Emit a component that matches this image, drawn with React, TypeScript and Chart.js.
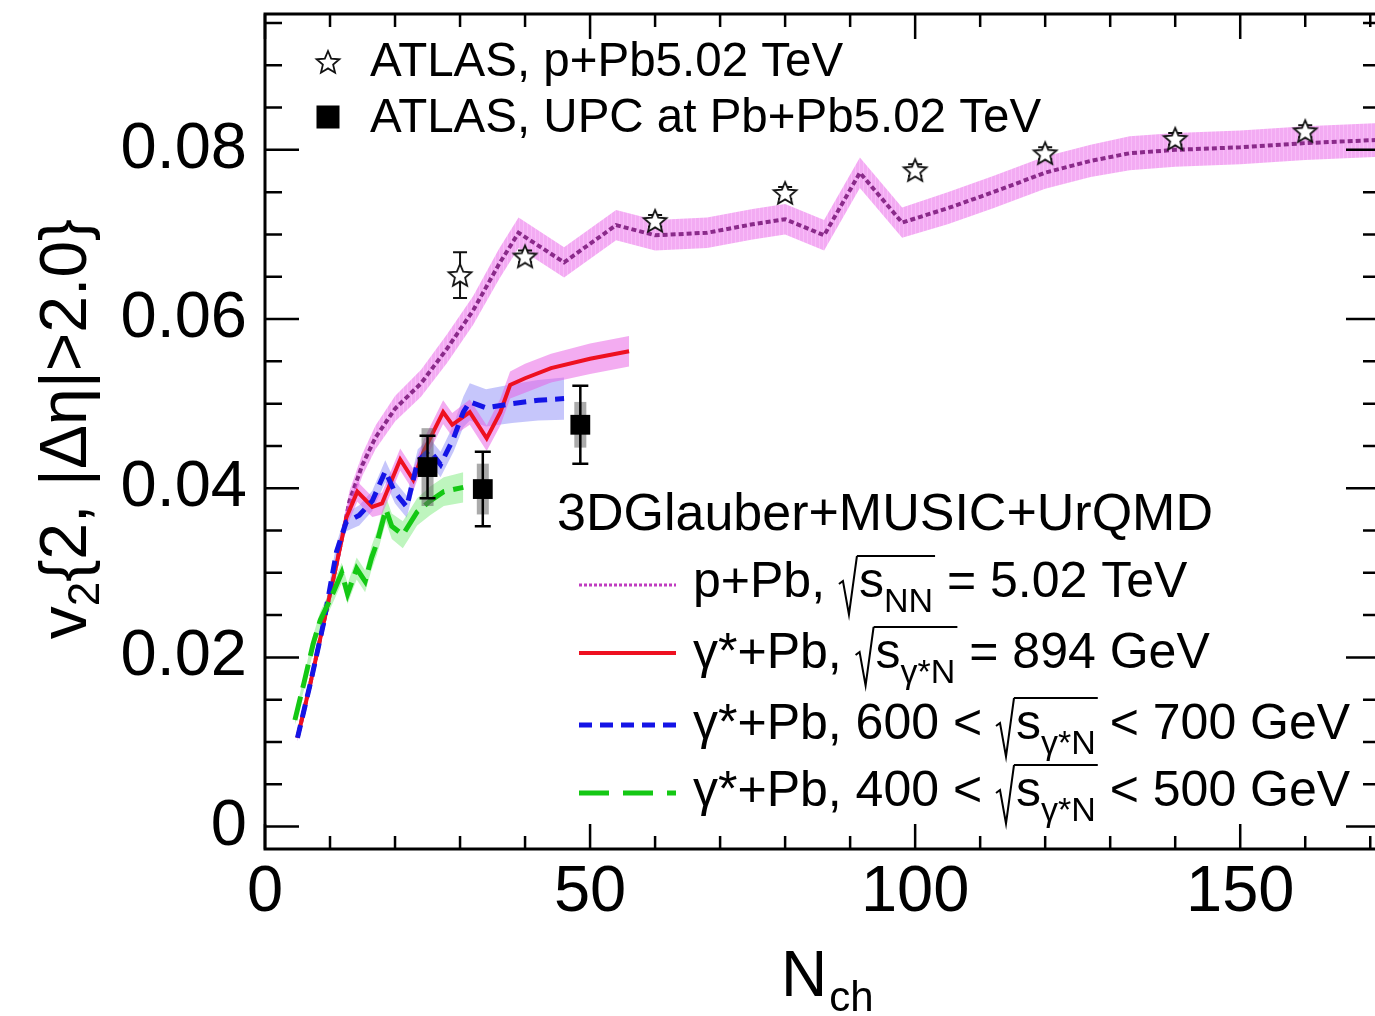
import React, { useEffect, useRef } from "react";
import { Chart, registerables } from "chart.js";

Chart.register(...registerables);

const FONT = '"Liberation Sans", Arial, Helvetica, sans-serif';

// ---------------- data ----------------
// 3DGlauber+MUSIC+UrQMD, p+Pb 5.02 TeV
const pPbN = [5, 7, 9, 11, 13, 15, 17, 20, 24, 28, 32, 36, 39, 46, 54, 60, 68, 75, 80, 86, 91.5, 98, 105, 112, 120, 127, 133, 140, 150, 160, 172];
const pPbV = [0.0105, 0.017, 0.024, 0.031, 0.0385, 0.0428, 0.046, 0.0494, 0.0524, 0.0565, 0.061, 0.0665, 0.0702, 0.0667, 0.0711, 0.0699, 0.0702, 0.0712, 0.0718, 0.0699, 0.0773, 0.0714, 0.0731, 0.075, 0.0773, 0.0787, 0.0796, 0.08, 0.0803, 0.0808, 0.0812];
const pPbErr = [0.0004, 0.0006, 0.0008, 0.001, 0.0012, 0.0013, 0.0014, 0.0015, 0.0016, 0.0017, 0.0017, 0.0018, 0.0018, 0.0018, 0.0018, 0.0018, 0.0018, 0.0018, 0.0018, 0.0018, 0.0018, 0.0018, 0.0019, 0.0019, 0.0019, 0.0019, 0.002, 0.002, 0.002, 0.002, 0.002];

// gamma*+Pb, sqrt(s) = 894 GeV
const redN = [5, 7, 9, 11, 12.5, 14.2, 16.5, 18, 20.8, 22.8, 24.5, 27.4, 28.8, 31.5, 34.1, 36.2, 37.7, 40, 44, 50, 56];
const redV = [0.0105, 0.017, 0.024, 0.031, 0.0365, 0.0396, 0.0378, 0.0382, 0.0434, 0.041, 0.0445, 0.049, 0.0475, 0.049, 0.0459, 0.049, 0.0522, 0.053, 0.0542, 0.0553, 0.0562];
const redErr = [0.0004, 0.0006, 0.0008, 0.001, 0.0011, 0.0012, 0.0012, 0.0013, 0.0013, 0.0013, 0.0014, 0.0014, 0.0014, 0.0015, 0.0015, 0.0016, 0.0016, 0.0017, 0.0017, 0.0018, 0.0018];

// gamma*+Pb, 600 < sqrt(s) < 700 GeV
const blueN = [5, 7, 9, 11, 12.5, 14.5, 16.5, 18.5, 20, 21.8, 23.5, 25.3, 27, 29, 30.5, 31.5, 34, 38, 42, 46];
const blueV = [0.0105, 0.017, 0.024, 0.0325, 0.036, 0.0368, 0.0385, 0.042, 0.0395, 0.0378, 0.0432, 0.0445, 0.0428, 0.0459, 0.049, 0.0502, 0.0495, 0.05, 0.0504, 0.0506];
const blueErr = [0.0004, 0.0006, 0.0008, 0.001, 0.0011, 0.0012, 0.0012, 0.0013, 0.0013, 0.0013, 0.0014, 0.0014, 0.0015, 0.0016, 0.0018, 0.0022, 0.0022, 0.0023, 0.0024, 0.0025];

// gamma*+Pb, 400 < sqrt(s) < 500 GeV
const greenN = [4.6, 6, 7.4, 8.5, 10, 11.8, 12.7, 14.1, 15.4, 16.4, 17.2, 18.6, 19.5, 21.2, 23.4, 25.4, 27.5, 30.5];
const greenV = [0.0126, 0.017, 0.0216, 0.0244, 0.0268, 0.03, 0.0275, 0.0305, 0.029, 0.0318, 0.0335, 0.0375, 0.0355, 0.0345, 0.0372, 0.0385, 0.0396, 0.0401];
const greenErr = [0.0006, 0.0008, 0.001, 0.001, 0.0011, 0.0012, 0.0012, 0.0013, 0.0013, 0.0014, 0.0014, 0.0015, 0.0015, 0.0016, 0.0016, 0.0017, 0.0017, 0.0018];

// ATLAS p+Pb 5.02 TeV
const atlasPPbN = [30, 40, 60, 80, 100, 120, 140, 160];
const atlasPPbV = [0.0652, 0.0674, 0.0716, 0.0749, 0.0776, 0.0796, 0.0813, 0.0822];
const atlasPPbErr = [0.0027, 0.0007, 0.0007, 0.0007, 0.0007, 0.0007, 0.0007, 0.0007];

// ATLAS UPC at Pb+Pb 5.02 TeV
const atlasUpcN = [25, 33.5, 48.5];
const atlasUpcV = [0.0425, 0.0399, 0.0475];
const atlasUpcStat = [0.0037, 0.0044, 0.0046];
const atlasUpcSys = [0.0046, 0.003, 0.0027];

// axes
const xTicks = [0, 50, 100, 150];
const xTickLabels = ["0", "50", "100", "150"];
const yTicks = [0, 0.02, 0.04, 0.06, 0.08];
const yTickLabels = ["0", "0.02", "0.04", "0.06", "0.08"];
const X_MIN = 0;
const X_MAX = 171.5;
const Y_MIN = -0.00265;
const Y_MAX = 0.09606;
const X_MINOR = 10;
const Y_MINOR = 0.005;

const topLegend = ["ATLAS, p+Pb5.02 TeV", "ATLAS, UPC at Pb+Pb5.02 TeV"];
const modelTitle = "3DGlauber+MUSIC+UrQMD";

type Tok = { t?: string; sub?: boolean; rad?: "open" | "close" };
const modelRows: Tok[][] = [
  [{ t: "p+Pb, " }, { rad: "open" }, { t: "s" }, { t: "NN", sub: true }, { rad: "close" }, { t: " = 5.02 TeV" }],
  [{ t: "γ*+Pb, " }, { rad: "open" }, { t: "s" }, { t: "γ*N", sub: true }, { rad: "close" }, { t: " = 894 GeV" }],
  [{ t: "γ*+Pb, 600 < " }, { rad: "open" }, { t: "s" }, { t: "γ*N", sub: true }, { rad: "close" }, { t: " < 700 GeV" }],
  [{ t: "γ*+Pb, 400 < " }, { rad: "open" }, { t: "s" }, { t: "γ*N", sub: true }, { rad: "close" }, { t: " < 500 GeV" }],
];

// ---------------- helpers ----------------
const pts = (xs: number[], ys: number[]) => xs.map((x, i) => ({ x, y: ys[i] }));
const bandPts = (xs: number[], ys: number[], es: number[], s: number) =>
  xs.map((x, i) => ({ x, y: ys[i] + s * es[i] }));

function makeStar(r: number): HTMLCanvasElement {
  const size = Math.ceil(r * 2 + 4);
  const c = document.createElement("canvas");
  c.width = size;
  c.height = size;
  const g = c.getContext("2d")!;
  const cx = size / 2;
  const cy = size / 2 + 1;
  g.beginPath();
  for (let k = 0; k < 10; k++) {
    const rr = k % 2 === 0 ? r : r * 0.45;
    const a = -Math.PI / 2 + (k * Math.PI) / 5;
    const px = cx + rr * Math.cos(a);
    const py = cy + rr * Math.sin(a);
    if (k === 0) g.moveTo(px, py);
    else g.lineTo(px, py);
  }
  g.closePath();
  g.fillStyle = "#fff";
  g.fill();
  g.lineWidth = 1.8;
  g.strokeStyle = "#111";
  g.stroke();
  return c;
}

function drawRich(ctx: CanvasRenderingContext2D, toks: Tok[], x: number, y: number, size: number) {
  let cx = x;
  let radStart = 0;
  ctx.textBaseline = "alphabetic";
  ctx.textAlign = "left";
  for (const tk of toks) {
    if (tk.rad === "open") {
      radStart = cx;
      ctx.save();
      ctx.lineWidth = 2;
      ctx.strokeStyle = "#000";
      ctx.beginPath();
      ctx.moveTo(cx, y - size * 0.26);
      ctx.lineTo(cx + size * 0.08, y - size * 0.32);
      ctx.lineTo(cx + size * 0.2, y + size * 0.35);
      ctx.lineTo(cx + size * 0.36, y - size * 0.82);
      ctx.stroke();
      ctx.restore();
      cx += size * 0.4;
      continue;
    }
    if (tk.rad === "close") {
      ctx.save();
      ctx.lineWidth = 2;
      ctx.strokeStyle = "#000";
      ctx.beginPath();
      ctx.moveTo(radStart + size * 0.36, y - size * 0.82);
      ctx.lineTo(cx + 2, y - size * 0.82);
      ctx.stroke();
      ctx.restore();
      continue;
    }
    const fs = tk.sub ? size * 0.68 : size;
    ctx.font = `${fs}px ${FONT}`;
    ctx.fillStyle = "#000";
    ctx.fillText(tk.t || "", cx, tk.sub ? y + size * 0.3 : y);
    cx += ctx.measureText(tk.t || "").width;
  }
}

export default function App() {
  const ref = useRef<HTMLCanvasElement | null>(null);

  useEffect(() => {
    const canvas = ref.current;
    if (!canvas) return;
    const c2d = canvas.getContext("2d")!;

    const pc = document.createElement("canvas");
    pc.width = 4;
    pc.height = 4;
    const pg = pc.getContext("2d")!;
    pg.fillStyle = "rgba(236,120,236,0.62)";
    pg.fillRect(0, 0, 4, 4);
    pg.fillStyle = "rgba(252,200,252,0.6)";
    pg.fillRect(3, 0, 1, 4);
    const pPbPattern = c2d.createPattern(pc, "repeat")!;

    const starImg = makeStar(12);

    const base = { pointRadius: 0, borderWidth: 0, tension: 0, showLine: true, fill: false as any };

    const datasets: any[] = [
      // 0,1 pPb band
      { ...base, data: bandPts(pPbN, pPbV, pPbErr, -1), borderColor: "transparent", order: 30 },
      { ...base, data: bandPts(pPbN, pPbV, pPbErr, 1), borderColor: "transparent", backgroundColor: pPbPattern, fill: "-1", order: 29 },
      // 2 pPb line
      { ...base, data: pts(pPbN, pPbV), borderColor: "#8a2a8a", borderWidth: 4, borderDash: [5, 3], order: 28 },
      // 3,4 blue band
      { ...base, data: bandPts(blueN, blueV, blueErr, -1), borderColor: "transparent", order: 27 },
      { ...base, data: bandPts(blueN, blueV, blueErr, 1), borderColor: "transparent", backgroundColor: "rgba(120,120,245,0.42)", fill: "-1", order: 26 },
      // 5,6 green band
      { ...base, data: bandPts(greenN, greenV, greenErr, -1), borderColor: "transparent", order: 25 },
      { ...base, data: bandPts(greenN, greenV, greenErr, 1), borderColor: "transparent", backgroundColor: "rgba(110,232,110,0.45)", fill: "-1", order: 24 },
      // 7,8 red band
      { ...base, data: bandPts(redN, redV, redErr, -1), borderColor: "transparent", order: 23 },
      { ...base, data: bandPts(redN, redV, redErr, 1), borderColor: "transparent", backgroundColor: "rgba(232,90,228,0.5)", fill: "-1", order: 22 },
      // 9 red line
      { ...base, data: pts(redN, redV), borderColor: "#ee1020", borderWidth: 4, order: 10 },
      // 10 blue line
      { ...base, data: pts(blueN, blueV), borderColor: "#1414e6", borderWidth: 5, borderDash: [13, 8], order: 9 },
      // 11 green line
      { ...base, data: pts(greenN, greenV), borderColor: "#14c814", borderWidth: 5, borderDash: [24, 9], order: 8 },
      // 12 ATLAS p+Pb stars
      { data: pts(atlasPPbN, atlasPPbV), showLine: false, pointStyle: starImg, pointRadius: 12, order: 2 },
      // 13 ATLAS UPC squares
      { data: pts(atlasUpcN, atlasUpcV), showLine: false, pointStyle: "rect", pointRadius: 14, pointBackgroundColor: "#000", pointBorderColor: "#000", pointBorderWidth: 0, order: 1 },
    ];
    const STAR_IDX = 12;
    const UPC_IDX = 13;

    const errorBarPlugin = {
      id: "errbars",
      beforeDatasetDraw(chart: any, args: any) {
        const ctx = chart.ctx as CanvasRenderingContext2D;
        const xs = chart.scales.x;
        const ys = chart.scales.y;
        if (args.index === STAR_IDX) {
          ctx.save();
          ctx.strokeStyle = "#111";
          ctx.lineWidth = 2;
          atlasPPbN.forEach((n, i) => {
            const px = xs.getPixelForValue(n);
            const y1 = ys.getPixelForValue(atlasPPbV[i] + atlasPPbErr[i]);
            const y2 = ys.getPixelForValue(atlasPPbV[i] - atlasPPbErr[i]);
            ctx.beginPath();
            ctx.moveTo(px, y1);
            ctx.lineTo(px, y2);
            ctx.moveTo(px - 7, y1);
            ctx.lineTo(px + 7, y1);
            ctx.moveTo(px - 7, y2);
            ctx.lineTo(px + 7, y2);
            ctx.stroke();
          });
          ctx.restore();
        }
        if (args.index === UPC_IDX) {
          ctx.save();
          atlasUpcN.forEach((n, i) => {
            const px = xs.getPixelForValue(n);
            const s1 = ys.getPixelForValue(atlasUpcV[i] + atlasUpcSys[i]);
            const s2 = ys.getPixelForValue(atlasUpcV[i] - atlasUpcSys[i]);
            ctx.fillStyle = "rgba(100,100,100,0.55)";
            ctx.fillRect(px - 6, s1, 12, s2 - s1);
            const y1 = ys.getPixelForValue(atlasUpcV[i] + atlasUpcStat[i]);
            const y2 = ys.getPixelForValue(atlasUpcV[i] - atlasUpcStat[i]);
            ctx.strokeStyle = "#000";
            ctx.lineWidth = 2.5;
            ctx.beginPath();
            ctx.moveTo(px, y1);
            ctx.lineTo(px, y2);
            ctx.moveTo(px - 8, y1);
            ctx.lineTo(px + 8, y1);
            ctx.moveTo(px - 8, y2);
            ctx.lineTo(px + 8, y2);
            ctx.stroke();
          });
          ctx.restore();
        }
      },
    };

    const framePlugin = {
      id: "frame",
      afterDraw(chart: any) {
        const ctx = chart.ctx as CanvasRenderingContext2D;
        const a = chart.chartArea;
        const xs = chart.scales.x;
        const ys = chart.scales.y;
        ctx.save();
        ctx.strokeStyle = "#000";
        ctx.lineWidth = 3;
        ctx.strokeRect(a.left, a.top, a.right - a.left, a.bottom - a.top);
        ctx.lineWidth = 2.5;
        ctx.beginPath();
        // y ticks (left + right)
        for (let k = 0; k * Y_MINOR <= Y_MAX + 1e-9; k++) {
          const v = k * Y_MINOR;
          const major = yTicks.some((t) => Math.abs(t - v) < 1e-9);
          const L = major ? 34 : 17;
          const py = ys.getPixelForValue(v);
          ctx.moveTo(a.left, py);
          ctx.lineTo(a.left + L, py);
          ctx.moveTo(a.right, py);
          ctx.lineTo(a.right - L, py);
        }
        // x ticks (bottom + top)
        for (let k = 0; k * X_MINOR <= X_MAX + 1e-9; k++) {
          const v = k * X_MINOR;
          const major = xTicks.some((t) => Math.abs(t - v) < 1e-9);
          const L = major ? 25 : 13;
          const px = xs.getPixelForValue(v);
          ctx.moveTo(px, a.bottom);
          ctx.lineTo(px, a.bottom - L);
          ctx.moveTo(px, a.top);
          ctx.lineTo(px, a.top + L);
        }
        ctx.stroke();

        ctx.fillStyle = "#000";
        ctx.textAlign = "left";
        ctx.textBaseline = "alphabetic";

        // x title
        ctx.font = `64px ${FONT}`;
        ctx.fillText("N", 781, 996);
        const nW = ctx.measureText("N").width;
        ctx.font = `42px ${FONT}`;
        ctx.fillText("ch", 781 + nW + 2, 1011);

        // y title (rotated)
        ctx.save();
        ctx.translate(86, 429);
        ctx.rotate(-Math.PI / 2);
        ctx.font = `66px ${FONT}`;
        const w1 = ctx.measureText("v").width;
        const w3 = ctx.measureText("{2, |Δη|>2.0}").width;
        ctx.font = `44px ${FONT}`;
        const w2 = ctx.measureText("2").width;
        let sx = -(w1 + w2 + w3) / 2;
        ctx.font = `66px ${FONT}`;
        ctx.fillText("v", sx, 0);
        sx += w1;
        ctx.font = `44px ${FONT}`;
        ctx.fillText("2", sx, 13);
        sx += w2;
        ctx.font = `66px ${FONT}`;
        ctx.fillText("{2, |Δη|>2.0}", sx, 0);
        ctx.restore();

        // top-left legend
        ctx.drawImage(starImg, 328 - starImg.width / 2, 62 - starImg.height / 2);
        ctx.fillRect(328 - 11.5, 117 - 11.5, 23, 23);
        ctx.font = `47.5px ${FONT}`;
        ctx.fillText(topLegend[0], 370, 76);
        ctx.fillText(topLegend[1], 370, 132);

        // model legend
        ctx.font = `52px ${FONT}`;
        ctx.fillText(modelTitle, 557, 530);
        const baselines = [597, 668, 739, 806];
        const sampleY = [585, 653, 725, 793];
        const styles = [
          { c: "#c03cc0", w: 3, d: [3, 2] },
          { c: "#ee1020", w: 4, d: [] as number[] },
          { c: "#1414e6", w: 5, d: [13, 8] },
          { c: "#14c814", w: 5, d: [30, 14] },
        ];
        styles.forEach((s, i) => {
          ctx.save();
          ctx.strokeStyle = s.c;
          ctx.lineWidth = s.w;
          ctx.setLineDash(s.d);
          ctx.beginPath();
          ctx.moveTo(579, sampleY[i]);
          ctx.lineTo(676, sampleY[i]);
          ctx.stroke();
          ctx.restore();
          drawRich(ctx, modelRows[i], 693, baselines[i], 50);
        });
        ctx.restore();
      },
    };

    const chart = new Chart(canvas, {
      type: "line",
      data: { datasets },
      options: {
        animation: false,
        responsive: false,
        maintainAspectRatio: false,
        devicePixelRatio: 1,
        events: [],
        layout: { padding: { left: 0, top: 11, right: 20, bottom: 0 } },
        plugins: { legend: { display: false }, tooltip: { enabled: false } },
        scales: {
          x: {
            type: "linear",
            position: "bottom",
            min: X_MIN,
            max: X_MAX,
            grid: { display: false, drawTicks: false },
            border: { display: false },
            afterBuildTicks: (s: any) => {
              s.ticks = xTicks.map((v) => ({ value: v }));
            },
            afterFit: (s: any) => {
              s.height = 167;
              s.paddingLeft = 0;
              s.paddingRight = 0;
            },
            ticks: {
              autoSkip: false,
              maxRotation: 0,
              minRotation: 0,
              padding: 5,
              color: "#000",
              font: { family: FONT, size: 65 },
              callback: (_v: any, i: number) => xTickLabels[i],
            },
          },
          y: {
            type: "linear",
            position: "left",
            min: Y_MIN,
            max: Y_MAX,
            grid: { display: false, drawTicks: false },
            border: { display: false },
            afterBuildTicks: (s: any) => {
              s.ticks = yTicks.map((v) => ({ value: v }));
            },
            afterFit: (s: any) => {
              s.width = 265;
              s.paddingTop = 0;
              s.paddingBottom = 0;
            },
            ticks: {
              autoSkip: false,
              padding: 18,
              color: "#000",
              font: { family: FONT, size: 65 },
              callback: (_v: any, i: number) => yTickLabels[i],
            },
          },
        },
      } as any,
      plugins: [errorBarPlugin, framePlugin],
    });

    return () => chart.destroy();
  }, []);

  return (
    <div
      style={{
        position: "fixed",
        left: 0,
        top: 0,
        width: 1375,
        height: 1016,
        overflow: "hidden",
        background: "#fff",
      }}
    >
      <canvas ref={ref} width={1400} height={1016} style={{ display: "block" }} />
    </div>
  );
}
